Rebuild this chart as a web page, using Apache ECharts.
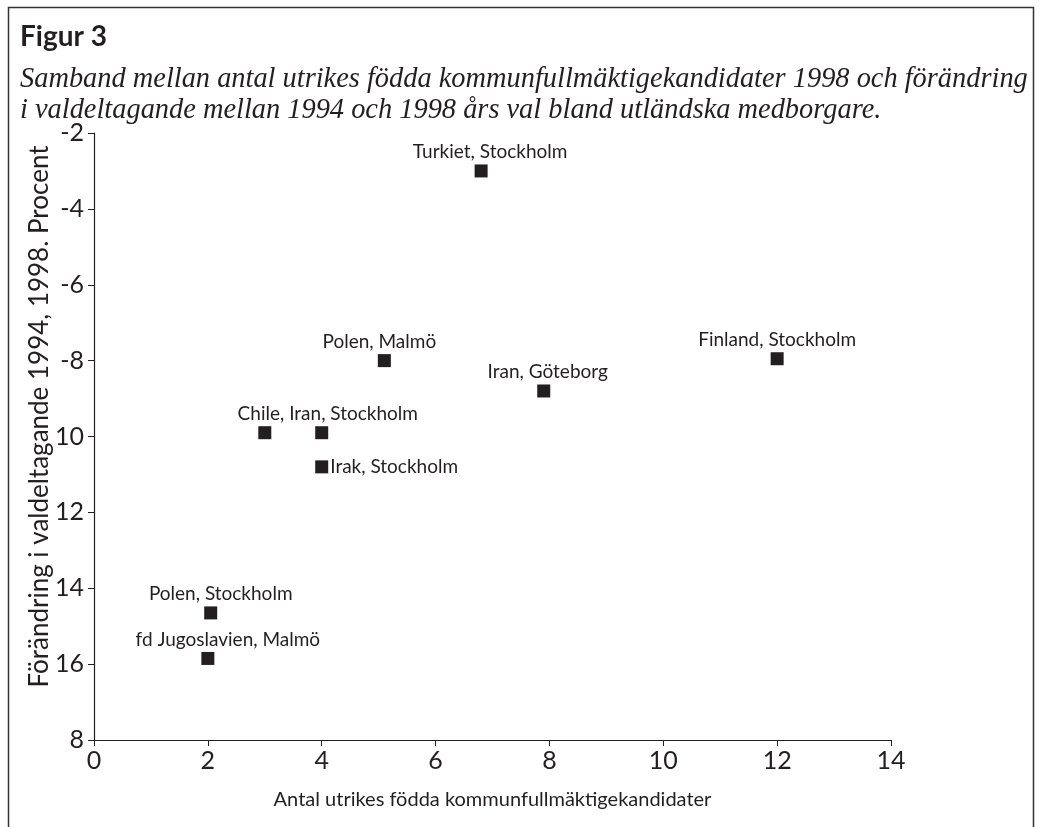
<!DOCTYPE html>
<html>
<head>
<meta charset="utf-8">
<script src="https://cdn.jsdelivr.net/npm/echarts@6/dist/echarts.min.js"></script>
<style>html,body{margin:0;padding:0;background:#fff}#c{width:1043px;height:827px}</style>
</head>
<body>
<div id="c"></div>
<script>
var names = ["Turkiet, Stockholm","Polen, Malmö","Iran, Göteborg","Finland, Stockholm","Chile, Iran, Stockholm","","Irak, Stockholm","Polen, Stockholm","fd Jugoslavien, Malmö"];
var xValues = [6.8, 5.1, 7.9, 12.0, 3.0, 4.0, 4.0, 2.05, 2.0];
var yValues = [-3.0, -8.0, -8.8, -7.95, -9.9, -9.9, -10.8, -14.65, -15.85];
var yTickLabels = ["-2","-4","-6","-8","10","12","14","16","8"];
var xTickLabels = ["0","2","4","6","8","10","12","14"];
var labelPos = ["top","top","top","top","top","top","right","top","top"];
var labelOffset = [[9,0],[-5,0],[4,0],[0,0],[63,0],[0,0],[0,0],[10,0],[20,0]];

var ink = '#231f20';
var sans = 'Lato, "DejaVu Sans", sans-serif';
var data = xValues.map(function(x,i){
  return {value:[x,yValues[i]], label:{show: names[i] !== '', formatter: names[i], position: labelPos[i], offset: labelOffset[i], distance: labelPos[i]==='right' ? 2 : 3}};
});

var chart = echarts.init(document.getElementById('c'), null, {renderer:'canvas'});
chart.setOption({
  animation:false,
  backgroundColor:'#fff',
  graphic:[
    {type:'rect', shape:{x:8.5,y:7.5,width:1025,height:900}, style:{fill:'none', stroke:'#333', lineWidth:1.5}, z:-1},
    {type:'text', left:20, top:23, style:{text:'Figur 3', font:'bold 28px ' + sans, fill:ink}},
    {type:'text', left:20, top:66, style:{text:'Samband mellan antal utrikes födda kommunfullmäktigekandidater 1998 och förändring', font:'italic 28.4px "Liberation Serif", serif', fill:ink}},
    {type:'text', left:20, top:97, style:{text:'i valdeltagande mellan 1994 och 1998 års val bland utländska medborgare.', font:'italic 28.4px "Liberation Serif", serif', fill:ink}}
  ],
  grid:{left:94, right:152, top:133, bottom:87, containLabel:false},
  xAxis:{
    type:'value', min:0, max:14, interval:2,
    name:'Antal utrikes födda kommunfullmäktigekandidater', nameLocation:'middle', nameGap:50,
    nameMoveOverlap:false,
    nameTextStyle:{fontFamily:sans, fontSize:20, color:ink},
    axisLine:{show:true, onZero:false, lineStyle:{color:ink, width:1.2}},
    axisTick:{show:true, length:6, lineStyle:{color:ink, width:1}},
    axisLabel:{fontFamily:sans, fontSize:25, color:ink, margin:8,
      formatter:function(v){return xTickLabels[Math.round(v/2)];}},
    splitLine:{show:false}
  },
  yAxis:{
    type:'value', min:-18, max:-2, interval:2,
    name:'Förändring i valdeltagande 1994, 1998. Procent', nameLocation:'middle', nameGap:41,
    nameMoveOverlap:false,
    nameTextStyle:{fontFamily:sans, fontSize:26, color:ink, padding:[0,0,0,40]},
    axisLine:{show:true, onZero:false, lineStyle:{color:ink, width:1.2}},
    axisTick:{show:true, length:6, lineStyle:{color:ink, width:1}},
    axisLabel:{fontFamily:sans, fontSize:25, color:ink, margin:10,
      formatter:function(v){return yTickLabels[Math.round((-2 - v)/2)];}},
    splitLine:{show:false}
  },
  series:[{
    type:'scatter', symbol:'rect', symbolSize:13,
    itemStyle:{color:ink, opacity:1},
    label:{show:true, fontFamily:sans, fontSize:19, color:ink},
    data:data
  }]
});
</script>
</body>
</html>
